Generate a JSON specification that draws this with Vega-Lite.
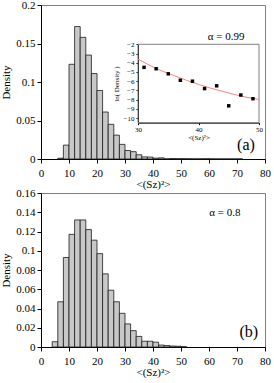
{
  "$schema": "https://vega.github.io/schema/vega-lite/v6.json",
  "padding": {"left": 0, "top": -2, "right": 0, "bottom": 0},
  "spacing": -4,
  "config": {
    "view": {"stroke": "#7f7f7f", "strokeWidth": 1},
    "font": "Liberation Serif",
    "axis": {
      "domainColor": "#000000", "tickColor": "#000000", "labelColor": "#000000", "titleColor": "#000000",
      "labelFont": "Liberation Serif", "titleFont": "Liberation Serif",
      "labelFontSize": 11, "titleFontSize": 11, "titleFontWeight": "normal",
      "grid": false, "tickSize": 4, "labelPadding": 2, "zindex": 1, "labelOverlap": false, "labelFlush": false, "tickCount": 30
    },
    "axisX": {"labelPadding": 4, "titlePadding": 0},
    "axisY": {"titlePadding": 4}
  },
  "vconcat": [
    {
      "width": 224,
      "height": 154,
      "layer": [
        {
          "layer": [
            {
              "data": {"values": [
                {"lo": 6, "hi": 8, "density": 0.001},
                {"lo": 8, "hi": 10, "density": 0.018},
                {"lo": 10, "hi": 12, "density": 0.123},
                {"lo": 12, "hi": 14, "density": 0.172},
                {"lo": 14, "hi": 16, "density": 0.158},
                {"lo": 16, "hi": 18, "density": 0.135},
                {"lo": 18, "hi": 20, "density": 0.111},
                {"lo": 20, "hi": 22, "density": 0.089},
                {"lo": 22, "hi": 24, "density": 0.061},
                {"lo": 24, "hi": 26, "density": 0.045},
                {"lo": 26, "hi": 28, "density": 0.031},
                {"lo": 28, "hi": 30, "density": 0.019},
                {"lo": 30, "hi": 32, "density": 0.011},
                {"lo": 32, "hi": 34, "density": 0.0095},
                {"lo": 34, "hi": 36, "density": 0.0055},
                {"lo": 36, "hi": 38, "density": 0.0027},
                {"lo": 38, "hi": 40, "density": 0.0025},
                {"lo": 40, "hi": 42, "density": 0.0011},
                {"lo": 42, "hi": 44, "density": 0.0015},
                {"lo": 44, "hi": 46, "density": 0.0002},
                {"lo": 46, "hi": 48, "density": 0.00055},
                {"lo": 48, "hi": 50, "density": 0.00037},
                {"lo": 50, "hi": 52, "density": 0.0004},
                {"lo": 52, "hi": 54, "density": 0.0003},
                {"lo": 54, "hi": 56, "density": 0.0002},
                {"lo": 56, "hi": 58, "density": 0.0002},
                {"lo": 58, "hi": 60, "density": 0.0003},
                {"lo": 60, "hi": 62, "density": 0.0002},
                {"lo": 62, "hi": 64, "density": 0.0001},
                {"lo": 64, "hi": 66, "density": 0.0001},
                {"lo": 66, "hi": 68, "density": 0.0001},
                {"lo": 68, "hi": 70, "density": 0.0001},
                {"lo": 70, "hi": 72, "density": 0.0001}
              ]},
              "mark": {"type": "rect", "fill": "#c8c8c8", "stroke": "#1a1a1a", "strokeWidth": 0.8},
              "encoding": {
                "x": {"field": "lo", "type": "quantitative",
                      "scale": {"domain": [0, 80], "nice": false},
                      "axis": {"values": [0, 10, 20, 30, 40, 50, 60, 70, 80], "format": "d", "title": "<(Sz)²>", "labelOverlap": false, "tickCount": 30}},
                "x2": {"field": "hi"},
                "y": {"field": "density", "type": "quantitative",
                      "scale": {"domain": [0, 0.2], "nice": false},
                      "axis": {"values": [0, 0.05, 0.1, 0.15, 0.2], "format": "~g", "title": "Density", "labelOverlap": false, "tickCount": 30}},
                "y2": {"datum": 0}
              }
            },
            {
              "data": {"values": [{"label": "α = 0.99"}]},
              "mark": {"type": "text", "fontSize": 11, "font": "Liberation Serif", "color": "#000000"},
              "encoding": {
                "x": {"datum": 66.1, "type": "quantitative"},
                "y": {"datum": 0.158, "type": "quantitative"},
                "text": {"field": "label"}
              }
            },
            {
              "data": {"values": [{"label": "(a)"}]},
              "mark": {"type": "text", "fontSize": 16, "font": "Liberation Serif", "color": "#000000"},
              "encoding": {
                "x": {"datum": 73.2, "type": "quantitative"},
                "y": {"datum": 0.0186, "type": "quantitative"},
                "text": {"field": "label"}
              }
            }
          ]
        },
        {
          "layer": [
            {
              "data": {"values": [{}]},
              "mark": {"type": "rect", "fill": "transparent", "stroke": "#7f7f7f", "strokeWidth": 1},
              "encoding": {
                "x": {"datum": 30, "type": "quantitative"},
                "x2": {"datum": 50},
                "y": {"datum": -10.5, "type": "quantitative"},
                "y2": {"datum": -2}
              }
            },
            {
              "data": {"values": [
                {"s": 30, "lnd": -3.6},
                {"s": 32, "lnd": -4.3},
                {"s": 34, "lnd": -4.9},
                {"s": 36, "lnd": -5.4},
                {"s": 38, "lnd": -5.9},
                {"s": 40, "lnd": -6.35},
                {"s": 42, "lnd": -6.75},
                {"s": 44, "lnd": -7.1},
                {"s": 46, "lnd": -7.45},
                {"s": 48, "lnd": -7.75},
                {"s": 50, "lnd": -7.98}
              ]},
              "mark": {"type": "line", "color": "#ff8080", "strokeWidth": 1, "interpolate": "monotone"},
              "encoding": {
                "x": {"field": "s", "type": "quantitative",
                      "scale": {"domain": [30, 50], "range": [97, 218], "nice": false, "zero": false},
                      "axis": {"orient": "bottom", "offset": -36.3, "values": [30, 40, 50], "format": "d", "title": "<(Sz)²>", "labelOverlap": false, "tickCount": 30,
                               "labelFontSize": 7, "titleFontSize": 7, "tickSize": 2, "labelPadding": 1, "titlePadding": 1}},
                "y": {"field": "lnd", "type": "quantitative",
                      "scale": {"domain": [-10.5, -2], "range": [117.7, 39.3], "nice": false, "zero": false},
                      "axis": {"orient": "left", "offset": -97, "values": [-2, -3, -4, -5, -6, -7, -8, -9, -10], "format": "d", "title": "ln( Density )", "labelOverlap": false, "tickCount": 30,
                               "labelFontSize": 7, "titleFontSize": 7, "tickSize": 2, "labelPadding": 2, "titlePadding": 4}}
              }
            },
            {
              "data": {"values": [
                {"s": 31, "lnd": -4.5},
                {"s": 33, "lnd": -4.65},
                {"s": 35, "lnd": -5.2},
                {"s": 37, "lnd": -5.9},
                {"s": 39, "lnd": -6.0},
                {"s": 41, "lnd": -6.8},
                {"s": 43, "lnd": -6.5},
                {"s": 45, "lnd": -8.67},
                {"s": 47, "lnd": -7.5},
                {"s": 49, "lnd": -7.9}
              ]},
              "mark": {"type": "square", "color": "#000000", "size": 12, "opacity": 1},
              "encoding": {
                "x": {"field": "s", "type": "quantitative"},
                "y": {"field": "lnd", "type": "quantitative"}
              }
            }
          ]
        }
      ],
      "resolve": {"scale": {"x": "independent", "y": "independent"}, "axis": {"x": "independent", "y": "independent"}}
    },
    {
      "width": 224,
      "height": 154,
      "layer": [
        {
          "data": {"values": [
            {"lo": 4, "hi": 6, "density": 0.0055},
            {"lo": 6, "hi": 8, "density": 0.047},
            {"lo": 8, "hi": 10, "density": 0.093},
            {"lo": 10, "hi": 12, "density": 0.117},
            {"lo": 12, "hi": 14, "density": 0.132},
            {"lo": 14, "hi": 16, "density": 0.132},
            {"lo": 16, "hi": 18, "density": 0.122},
            {"lo": 18, "hi": 20, "density": 0.111},
            {"lo": 20, "hi": 22, "density": 0.097},
            {"lo": 22, "hi": 24, "density": 0.076},
            {"lo": 24, "hi": 26, "density": 0.059},
            {"lo": 26, "hi": 28, "density": 0.047},
            {"lo": 28, "hi": 30, "density": 0.035},
            {"lo": 30, "hi": 32, "density": 0.024},
            {"lo": 32, "hi": 34, "density": 0.017},
            {"lo": 34, "hi": 36, "density": 0.011},
            {"lo": 36, "hi": 38, "density": 0.006},
            {"lo": 38, "hi": 40, "density": 0.006},
            {"lo": 40, "hi": 42, "density": 0.005},
            {"lo": 42, "hi": 44, "density": 0.002},
            {"lo": 44, "hi": 46, "density": 0.0015},
            {"lo": 46, "hi": 48, "density": 0.001},
            {"lo": 48, "hi": 50, "density": 0.0008},
            {"lo": 50, "hi": 52, "density": 0.0003}
          ]},
          "mark": {"type": "rect", "fill": "#c8c8c8", "stroke": "#1a1a1a", "strokeWidth": 0.8},
          "encoding": {
            "x": {"field": "lo", "type": "quantitative",
                  "scale": {"domain": [0, 80], "nice": false},
                  "axis": {"values": [0, 10, 20, 30, 40, 50, 60, 70, 80], "format": "d", "title": "<(Sz)²>", "labelOverlap": false, "tickCount": 30}},
            "x2": {"field": "hi"},
            "y": {"field": "density", "type": "quantitative",
                  "scale": {"domain": [0, 0.16], "nice": false},
                  "axis": {"values": [0, 0.02, 0.04, 0.06, 0.08, 0.1, 0.12, 0.14, 0.16], "format": "~g", "title": "Density", "labelOverlap": false, "tickCount": 30}},
            "y2": {"datum": 0}
          }
        },
        {
          "data": {"values": [{"label": "α = 0.8"}]},
          "mark": {"type": "text", "fontSize": 11, "font": "Liberation Serif", "color": "#000000"},
          "encoding": {
            "x": {"datum": 65.7, "type": "quantitative"},
            "y": {"datum": 0.1396, "type": "quantitative"},
            "text": {"field": "label"}
          }
        },
        {
          "data": {"values": [{"label": "(b)"}]},
          "mark": {"type": "text", "fontSize": 16, "font": "Liberation Serif", "color": "#000000"},
          "encoding": {
            "x": {"datum": 74.2, "type": "quantitative"},
            "y": {"datum": 0.0156, "type": "quantitative"},
            "text": {"field": "label"}
          }
        }
      ]
    }
  ]
}
